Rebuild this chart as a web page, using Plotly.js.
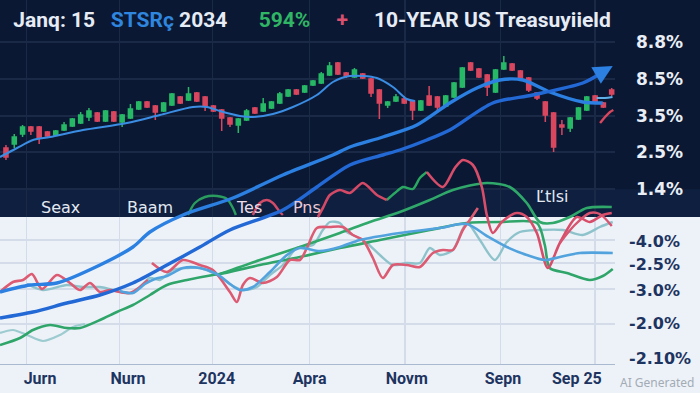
<!DOCTYPE html>
<html><head><meta charset="utf-8">
<script src="https://cdn.plot.ly/plotly-3.0.1.min.js"></script>
<style>html,body{margin:0;padding:0;background:#edf2f8;}#chart{width:700px;height:393px;}</style>
</head><body><div id="chart"></div>
<script>
// ---- candles (top panel), value units of the chart's index scale ----
const candleOpen  = [21.6,22.0,23.0,23.7,23.7,23.2,22.9,23.4,23.8,24.1, 24.7,25.1,24.3,25.2,24.2,24.6,25.5,26.2,25.8,25.3, 25.9,26.7,26.4,27.1,26.7,25.8,25.4,24.6,23.9,24.4, 25.6,25.3,25.6,26.1,26.8,27.4,27.2,27.9,28.1,28.9, 30.1,29.1,28.7,29.0,28.5,27.4,25.9,26.3,26.5,26.3, 25.4,26.8,26.7,25.8,26.7,27.7,30.1,29.5,28.9,27.2, 29.5,30.0,29.3,28.6,27.1,26.2,25.1,23.9,23.6,24.5, 25.4,26.8,26.1,27.4];
const candleHigh  = [21.9,23.0,23.9,23.8,23.8,23.3,23.4,24.2,24.6,25.2, 25.6,25.2,25.4,25.3,25.0,26.0,26.3,26.3,25.9,26.2, 27.1,26.8,27.7,27.2,26.8,25.9,25.5,24.7,24.6,25.5, 25.7,26.6,26.3,27.2,27.5,27.5,27.9,28.4,29.2,30.2, 30.2,29.2,29.6,29.1,28.6,27.5,26.3,27.0,26.8,26.4, 26.4,27.8,26.8,26.9,28.2,29.7,30.2,29.6,29.0,29.5, 30.8,30.1,29.4,28.7,27.2,26.3,25.2,24.4,24.7,25.7, 26.8,26.9,26.2,27.6];
const candleLow   = [20.4,21.6,22.7,22.9,22.0,22.7,22.8,23.3,23.7,24.0, 24.3,24.2,24.2,24.2,23.7,24.5,25.4,25.6,24.4,25.2, 25.8,26.0,26.3,26.2,25.3,25.2,23.3,23.7,23.1,24.3, 25.0,25.2,25.5,26.0,26.7,26.9,27.1,27.8,28.0,28.8, 28.9,28.6,28.6,28.5,26.7,24.5,25.6,26.2,26.0,24.4, 25.3,25.8,25.2,25.7,26.6,27.6,29.3,28.6,26.8,27.1, 29.4,29.3,28.5,27.2,26.4,24.2,21.2,22.9,23.2,24.4, 25.3,26.0,25.6,26.8];
const candleClose = [20.7,22.7,23.7,23.3,22.6,22.8,23.3,23.9,24.5,24.9, 25.3,24.3,25.3,24.3,24.9,25.5,26.2,25.7,25.2,26.1, 27.0,26.1,27.0,26.3,25.8,25.3,24.6,24.0,24.5,25.3, 25.1,26.0,26.2,27.0,27.4,27.0,27.8,28.3,29.0,29.8, 29.0,28.8,29.4,28.6,27.1,26.1,26.2,26.7,26.1,25.4, 26.3,25.9,25.7,26.8,28.1,29.6,29.4,28.7,27.7,29.4, 30.1,29.4,28.6,27.4,26.6,24.9,21.7,23.7,24.6,25.6, 26.7,26.1,25.7,27.0];

// ---- lines (x in candle-index units, y in value units) ----
const maX = [-0.72,1.33,3.25,5.30,9.28,14.58,18.55,22.53,24.22,25.78,28.19,29.76,32.17,34.58,37.47,39.40,41.45,44.70,46.63,48.31,49.28];
const maY = [20.7,21.6,22.4,22.7,23.4,24.1,24.9,25.7,25.7,25.3,24.8,24.7,25.0,25.7,26.9,28.2,28.8,28.6,27.7,26.5,26.3];

const blueUpX = [-0.72,2.89,6.14,11.33,15.30,17.35,21.33,27.35,33.37,39.40,41.45,45.42,49.52,53.49,56.75,59.52,62.29,65.54,69.52,71.93];
const blueUpY = [7.2,7.9,8.1,9.9,11.7,13.2,14.9,16.6,18.9,20.9,21.7,22.7,23.9,26.1,27.6,28.4,28.4,27.2,26.2,26.1];

const blueLoX = [-0.72,3.25,7.35,11.33,15.30,19.40,23.37,26.99,33.37,37.47,41.45,45.42,47.47,50.72,53.49,58.67,63.49,69.52,71.57];
const blueLoY = [4.6,5.2,6.1,6.9,8.1,9.9,11.7,13.4,15.4,17.7,19.9,20.9,21.4,22.4,23.4,26.1,26.9,28.1,29.0];

const shortBlueX = [71.2,72.2,73.1];
const shortBlueY = [26.6,26.6,26.7];

const redAX = [-0.72,0.84,2.05,3.13,4.34,6.14,7.71,8.92,10.12,11.33,12.53,13.73,14.94,16.14,17.11];
const redAY = [7.2,8.2,8.4,9.0,7.5,8.9,8.1,7.4,8.1,7.2,7.4,7.2,7.1,7.7,8.4];

const redBX = [17.59,19.40,21.33,23.37,24.94,26.99,27.83,28.55,29.40,30.96,32.65,34.22,35.42,36.27,37.47,39.04,40.60,41.81,43.01,44.22,45.42,46.63,48.31,49.88,51.45,52.65,53.86,55.06,55.90,56.87];
const redBY = [10.1,9.2,10.4,9.9,9.4,7.2,6.2,7.9,8.6,8.1,8.7,10.4,10.4,11.6,13.6,13.7,13.7,12.9,12.4,10.6,8.6,9.9,9.9,9.7,11.1,11.4,11.4,13.4,14.4,15.6];

const redC1X = [37.59,38.19,39.04,40.24,41.45,43.01,44.70,45.90];
const redC1Y = [14.7,15.6,16.9,17.4,17.1,18.1,16.9,16.4];
const greenWX = [45.90,46.87,47.83,49.04,49.88,50.72];
const greenWY = [16.4,17.1,17.7,17.5,18.6,19.2];
const redC2X = [50.72,52.65,54.10,55.06,56.27,57.35,57.95,58.67,59.76,61.57,62.77,63.98,65.30,66.75,68.80,70.36,71.93,73.01];
const redC2Y = [19.2,17.7,19.6,20.4,19.9,17.7,14.9,13.1,14.2,15.1,14.7,13.1,9.6,12.1,14.7,14.2,14.9,15.1];
const redDX = [66.75,68.55,70.36,71.57,73.01];
const redDY = [12.1,13.9,15.1,15.0,13.8];
const redHumpX = [29.76,30.60,31.45,32.17,33.01,33.37];
const redHumpY = [14.9,16.1,16.4,16.1,15.2,14.9];
const redHookX = [71.6,72.2,72.8,73.2];
const redHookY = [24.1,24.7,25.2,25.4];

const greenMX = [21.93,22.77,23.98,25.42,26.63,27.35,27.71];
const greenMY = [14.9,16.1,16.7,16.8,16.5,15.6,14.9];

const green1X = [-0.72,1.69,3.25,5.30,7.35,8.92,11.33,13.37,15.30,17.35,19.40,21.81,24.94,25.78,30.60,35.42,40.24,45.06,51.08,55.54,59.52,63.98,64.94,65.54,67.59,70.36,71.93,73.13];
const green1Y = [1.9,2.6,3.4,3.9,3.6,3.6,4.4,5.2,5.9,6.9,7.9,8.4,8.9,9.0,9.9,10.7,11.6,12.4,13.4,14.1,14.2,14.1,11.9,9.6,9.1,8.4,8.8,9.5];

const green2X = [25.78,30.60,35.42,40.24,43.86,47.47,51.08,53.86,57.95,60.72,62.77,64.34,65.90,67.95,70.00,73.01];
const green2Y = [9.0,10.4,11.7,13.1,14.2,15.2,16.4,17.4,18.1,17.7,16.1,14.2,14.1,14.7,15.6,15.7];

const teal1X = [-0.72,0.84,2.53,4.46,6.51,8.07,9.52];
const teal1Y = [3.1,3.4,2.9,2.3,2.9,3.7,4.0];

const teal2X = [2.53,4.46,7.35,9.28,11.33,12.89,14.94,16.14,17.35,18.55, 20.12,21.81,23.37,25.42,27.35,28.55,30.24,31.81,33.37,35.06, 36.99,38.19,39.04,40.24,41.08,41.81,43.49,45.06,46.63,48.31, 49.88,51.08,52.29,53.86,55.54,57.11,58.92,60.36,61.93,64.34, 67.11,69.52,71.57,73.13];
const teal2Y = [8.0,7.4,7.9,7.7,7.7,7.4,7.1,7.7,8.6,8.4, 9.4,9.6,9.6,8.9,7.8,7.4,7.7,8.9,9.9,11.6, 11.9,13.4,14.2,14.1,13.2,12.9,12.1,10.9,9.9,10.1, 10.1,11.6,10.9,11.4,14.1,12.4,10.4,12.2,13.2,13.4, 13.4,12.9,13.7,14.2];

const blueMX = [13.73,15.30,16.75,17.95,19.40,21.33,23.37,25.42,26.99,28.19,29.76,31.81,33.86,35.42,37.83,40.24,42.65,47.47,52.29,55.54,57.95,60.36,62.77,64.94,66.75,69.16,73.13];
const blueMY = [7.3,7.1,8.0,8.5,8.8,9.6,9.6,9.0,8.0,7.4,7.7,9.2,10.9,11.6,11.3,11.7,12.4,13.1,13.6,14.0,12.8,11.7,10.9,10.4,10.7,11.1,11.1];

// ---- tick labels ----
const xTickPos = [4.1,14.7,25.4,36.6,48.3,59.9,68.8];
const xTickText = ['Jurn','Nurn','2024','Apra','Novm','Sepn','Sep 25'];
const xGridPos = [2.5,13.7,24.9,36.6,48.1,59.6,71.0];
const topTickPos = [32.2,28.5,24.8,21.2,17.5];
const topTickText = ['8.8%','8.5%','3.5%','2.5%','1.4%'];
const botTickPos = [12.3,10.0,7.4,4.1,0.6];
const botTickText = ['-4.0%','-2.5%','-3.0%','-2.0%','-2.10%'];
const botGridPos = [12.4,10.1,7.5,4.0];

const idx = candleOpen.map((_, i) => i);
const XR = [-0.72, 73.4];

function line(x, y, color, width) {
  return {type:'scatter', mode:'lines', x:x, y:y, xaxis:'x3', yaxis:'y3',
    line:{color:color, width:width, shape:'spline', smoothing:0.8}, hoverinfo:'skip', showlegend:false};
}

const traces = [
  {type:'candlestick', x:idx, open:candleOpen, high:candleHigh, low:candleLow, close:candleClose,
   xaxis:'x', yaxis:'y', showlegend:false, whiskerwidth:0,
   increasing:{line:{color:'#27b866', width:1.5}, fillcolor:'#27b866'},
   decreasing:{line:{color:'#d9475f', width:1.5}, fillcolor:'#d9475f'}},
  {type:'scatter', mode:'none', x:[XR[0]], y:[0], xaxis:'x2', yaxis:'y2', showlegend:false, hoverinfo:'skip'},
  line(teal1X, teal1Y, '#9ccbd0', 2.2),
  line(teal2X, teal2Y, '#8fc3cc', 2.4),
  line(green1X, green1Y, '#2fa56a', 2.6),
  line(green2X, green2Y, '#2fa86a', 2.6),
  line(greenMX, greenMY, '#2a9d5e', 2.4),
  line(greenWX, greenWY, '#2aa862', 2.4),
  line(redAX, redAY, '#dc5a72', 2.6),
  line(redBX, redBY, '#dc5a72', 2.6),
  line(redHumpX, redHumpY, '#d24b68', 2.4),
  line(redC1X, redC1Y, '#d44a66', 2.6),
  line(redC2X, redC2Y, '#d84e6a', 2.6),
  line(redDX, redDY, '#d85470', 2.4),
  line(redHookX, redHookY, '#d9475f', 2.4),
  line(blueMX, blueMY, '#52a2de', 2.6),
  line(maX, maY, '#3a8de3', 2),
  line(shortBlueX, shortBlueY, '#5fb0e8', 2),
  line(blueUpX, blueUpY, '#2b80e2', 3.4),
  line(blueLoX, blueLoY, '#2369d6', 3.4)
];

const gridTop = '#1a2946';
const gridBot = '#d3dce8';
const S = '\u00a0';

const layout = {
  width:700, height:393,
  margin:{l:0, r:85, t:0, b:29},
  paper_bgcolor:'#edf2f8', plot_bgcolor:'rgba(0,0,0,0)',
  showlegend:false,
  title:{
    text:'Janq: 15' + S + S + ' <span style="color:#2f86de">STSRç</span> 2034' + S.repeat(5) + ' <span style="color:#2fb564">594%</span>' + S.repeat(4) + ' <span style="color:#d9506e">+</span>' + S.repeat(4) + ' 10-YEAR US Treasuyiield',
    x:0.019, xanchor:'left', xref:'container', y:0.949, yanchor:'middle', yref:'container',
    font:{family:'Roboto, sans-serif', size:21, color:'#e6ecf5', weight:700}
  },
  xaxis:{domain:[0,1], anchor:'y', range:XR, showticklabels:false, showgrid:false, zeroline:false,
    rangeslider:{visible:false}, fixedrange:true,
    minor:{tickvals:xGridPos, showgrid:true, gridcolor:gridTop, gridwidth:1.2, ticks:''}},
  yaxis:{domain:[0.404,1], anchor:'x', range:[14.7,36.4], side:'right', tickvals:topTickPos, ticktext:topTickText,
    showgrid:true, gridcolor:gridTop, gridwidth:1.2, zeroline:false, ticks:'', ticklabelstandoff:20,
    tickfont:{family:'DejaVu Sans, sans-serif', size:17, color:'#e9eef6', weight:700}},
  xaxis2:{domain:[0,1], anchor:'y2', range:XR, tickvals:xTickPos, ticktext:xTickText, showgrid:false, zeroline:false,
    showline:true, linecolor:'#a9bad0', linewidth:1.2, ticks:'',
    minor:{tickvals:xGridPos, showgrid:true, gridcolor:gridBot, gridwidth:1.2, ticks:''},
    tickfont:{family:'Roboto, sans-serif', size:16, color:'#1d3461', weight:700}},
  yaxis2:{domain:[0,0.404], anchor:'x2', range:[0,14.7], side:'right', tickvals:botTickPos, ticktext:botTickText,
    showgrid:false, zeroline:false, ticks:'', ticklabelstandoff:13,
    minor:{tickvals:botGridPos, showgrid:true, gridcolor:gridBot, gridwidth:1.2, ticks:''},
    tickfont:{family:'DejaVu Sans, sans-serif', size:16, color:'#1d3461', weight:700}},
  xaxis3:{domain:[0,1], anchor:'y3', range:XR, visible:false},
  yaxis3:{domain:[0,1], anchor:'x3', range:[0,36.4], visible:false},
  shapes:[
    {type:'rect', xref:'paper', yref:'paper', x0:-0.02, x1:1.2, y0:0.404, y1:1.1, layer:'below',
     fillcolor:'#0b1834', line:{width:0}},
    {type:'rect', xref:'paper', yref:'paper', x0:-0.02, x1:1.2, y0:0.404, y1:0.48, layer:'below',
     fillcolor:'rgba(30,60,110,0.2)', line:{width:0}}
  ],
  annotations:[
    {text:'Seax', xref:'paper', yref:'paper', x:0.0976, y:0.4286, xanchor:'center', yanchor:'middle', showarrow:false, font:{family:'DejaVu Sans, sans-serif', size:16, color:'#e3e9f2'}},
    {text:'Baam', xref:'paper', yref:'paper', x:0.2439, y:0.4286, xanchor:'center', yanchor:'middle', showarrow:false, font:{family:'DejaVu Sans, sans-serif', size:16, color:'#e3e9f2'}},
    {text:'Tes', xref:'paper', yref:'paper', x:0.4049, y:0.4286, xanchor:'center', yanchor:'middle', showarrow:false, font:{family:'DejaVu Sans, sans-serif', size:16, color:'#ecdde6'}},
    {text:'Pns', xref:'paper', yref:'paper', x:0.4992, y:0.4286, xanchor:'center', yanchor:'middle', showarrow:false, font:{family:'DejaVu Sans, sans-serif', size:16, color:'#e9c9d6'}},
    {text:'Ľtlsi', xref:'paper', yref:'paper', x:0.8976, y:0.4588, xanchor:'center', yanchor:'middle', showarrow:false, font:{family:'DejaVu Sans, sans-serif', size:16, color:'#e3e9f2'}},
    {text:'AI Generated', xref:'paper', yref:'paper', x:1.068, y:-0.052, xanchor:'center', yanchor:'middle', showarrow:false, font:{family:'Noto Sans, sans-serif', size:12, color:'#a3abb5'}},
    {text:'', xref:'x3', yref:'y3', x:73.13, y:29.8, ax:-14, ay:8, showarrow:true, arrowhead:2, arrowsize:1.2, arrowwidth:3.2, arrowcolor:'#2b80e2', standoff:0}
  ]
};

Plotly.newPlot('chart', traces, layout, {displayModeBar:false, staticPlot:true});
</script>
</body></html>
